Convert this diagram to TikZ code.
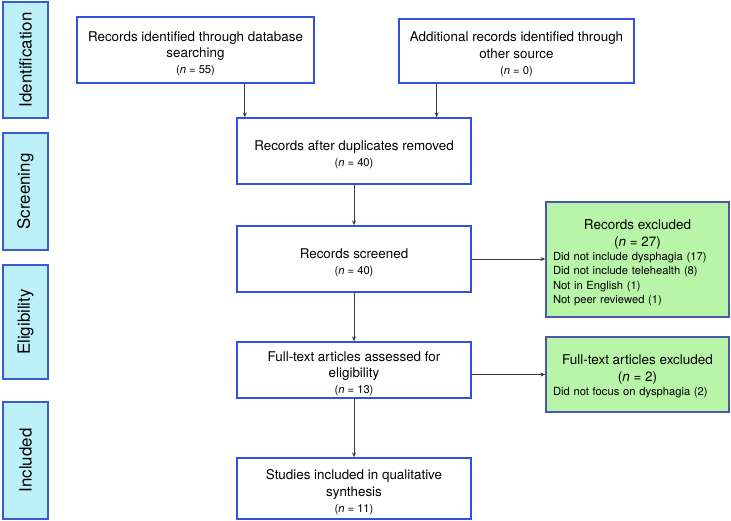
\documentclass[tikz,border=0pt]{standalone}
\usepackage{fontspec}
\setmainfont{TeX Gyre Heros}
\usetikzlibrary{arrows.meta}
\definecolor{boxblue}{HTML}{3050E0}
\definecolor{sidefill}{HTML}{BDF1FA}
\definecolor{sideline}{HTML}{3A5CD0}
\definecolor{greenfill}{HTML}{B8F5A8}
\definecolor{greenline}{HTML}{4A5AA8}
\definecolor{arrowgray}{HTML}{3A3A3A}
\newcommand{\nsmall}{\fontsize{11.2}{13}\selectfont}
\newcommand{\topstrut}[1]{\rule{0pt}{#1}}
\begin{document}
\begin{tikzpicture}[x=1pt,y=-1pt,
  mainbox/.style={draw=boxblue, line width=1.3pt, fill=white, minimum width=234pt,
    align=center, inner sep=0pt, font=\fontsize{13.4}{16.3}\selectfont},
  greenbox/.style={draw=greenline, line width=1.3pt, fill=greenfill, minimum width=183pt,
    text width=169pt, inner xsep=7pt, inner ysep=0pt, align=left,
    font=\fontsize{11.2}{14.3}\selectfont},
  sidebox/.style={draw=sideline, line width=1.3pt, fill=sidefill, minimum height=45pt,
    inner sep=0pt, rotate=90, font=\fontsize{16.9}{19}\selectfont},
  arr/.style={draw=arrowgray, line width=0.9pt, -{Stealth[length=5pt,width=4pt]}}
]
\useasboundingbox (0,0) rectangle (731,521);

% phase labels
\node[sidebox, minimum width=116pt] (sid) at (25.5,60) {Identification};
\node[sidebox, minimum width=117pt] (ssc) at (25.5,191.5) {Screening};
\node[sidebox, minimum width=114pt] (sel) at (25.5,322) {Eligibility};
\node[sidebox, minimum width=117pt] (sin) at (25.5,460.5) {Included};

% main flow
\node[mainbox, minimum width=237pt, minimum height=66pt] (db) at (195.5,50)
  {\topstrut{17.5pt}Records identified through database\\searching\\{\nsmall(\textit{n} = 55)}};
\node[mainbox, minimum width=235pt, minimum height=64pt] (oth) at (516.5,51)
  {\topstrut{16.5pt}Additional records identified through\\other source\\{\nsmall(\textit{n} = 0)}};
\node[mainbox, minimum height=66pt] (dup) at (354,151)
  {\topstrut{17.5pt}Records after duplicates removed\\{\nsmall(\textit{n} = 40)}};
\node[mainbox, minimum height=66pt] (scr) at (354,259)
  {\topstrut{17.5pt}Records screened\\{\nsmall(\textit{n} = 40)}};
\node[mainbox, minimum height=56pt] (ft) at (354,370)
  {\topstrut{17.5pt}Full-text articles assessed for\\eligibility\\{\nsmall(\textit{n} = 13)}};
\node[mainbox, minimum height=61pt] (inc) at (354,488.5)
  {\topstrut{17.5pt}Studies included in qualitative\\synthesis\\{\nsmall(\textit{n} = 11)}};

% exclusions
\node[greenbox, minimum height=115pt] (ex1) at (637.5,259.5)
  {{\centering\fontsize{13.5}{17}\selectfont\topstrut{16pt}Records excluded\\(\textit{n} = 27)\par}
   Did not include dysphagia (17)\\Did not include telehealth (8)\\Not in English (1)\\Not peer reviewed (1)};
\node[greenbox, minimum height=75pt] (ex2) at (637.5,374.5)
  {{\centering\fontsize{13.5}{17}\selectfont\topstrut{13pt}Full-text articles excluded\\(\textit{n} = 2)\par}
   Did not focus on dysphagia (2)};

% connectors
\coordinate (a) at ([xshift=8.5pt]dup.north west);
\coordinate (b) at ([xshift=-35pt]dup.north east);
\draw[arr] (db.south -| a) -- (a);
\draw[arr] (oth.south -| b) -- (b);
\draw[arr] (dup) -- (scr);
\draw[arr] (scr) -- (ft);
\draw[arr] (ft) -- (inc);
\draw[arr] (scr.east) -- (ex1.west |- scr.east);
\draw[arr] (ft.east |- ex2.west) -- (ex2.west);
\end{tikzpicture}
\end{document}
